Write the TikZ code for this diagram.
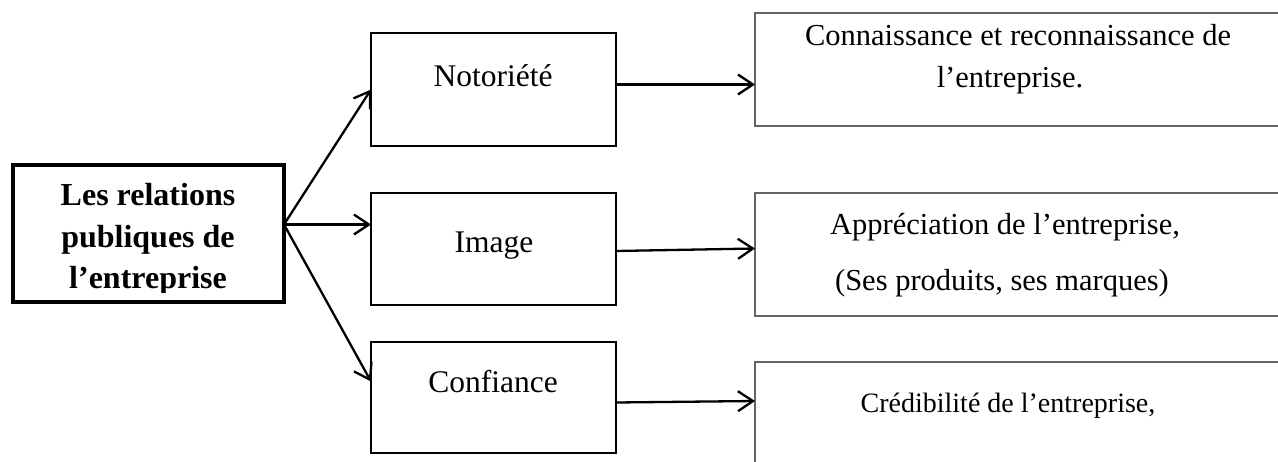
\documentclass[tikz,border=0pt]{standalone}
\usepackage{fontspec}
\setmainfont{Liberation Serif}
\usetikzlibrary{arrows.meta}

\begin{document}
\begin{tikzpicture}[x=1pt,y=-1pt,
    box/.style={draw,line width=2pt,minimum width=245pt,inner sep=0pt,outer sep=0pt,anchor=north west},
    info/.style={draw=black!60,line width=1.5pt,minimum width=540pt,inner sep=0pt,outer sep=0pt,anchor=north west},
    txt/.style={anchor=base,inner sep=0pt,font=\fontsize{30.5}{36}\selectfont},
    head/.style={anchor=base,inner sep=0pt,font=\fontsize{32}{38}\selectfont\bfseries},
    arr/.style={line width=2.3pt,-{Straight Barb[length=15pt,width=20pt]}}]
  \useasboundingbox (0,0) rectangle (1278,461);

  % boxes
  \node[draw,line width=3.5pt,minimum width=271pt,minimum height=137pt,
        inner sep=0pt,outer sep=0pt,anchor=north west] (main) at (13,165) {};
  \node[box,minimum height=113pt] (noto) at (371,33) {};
  \node[box,minimum height=112pt] (img) at (371,193) {};
  \node[box,minimum height=111pt] (conf) at (371,342) {};
  \node[info,minimum height=113pt] (know) at (755,13) {};
  \node[info,minimum height=123pt] (appr) at (755,193) {};
  \node[info,minimum height=120pt] (cred) at (755,362) {};

  % texts
  \begin{scope}
    \clip (15,167) rectangle (282,292);
    \node[head] (main-1) at (148,205) {Les relations};
    \node[head] (main-2) at (148,247) {publiques de};
    \node[head] (main-3) at (148,288) {l’entreprise};
  \end{scope}
  \node[txt,font=\fontsize{31.5}{36}\selectfont] (noto-t) at (493,86) {Notoriété};
  \node[txt,font=\fontsize{31.5}{36}\selectfont] (img-t) at (494,252) {Image};
  \node[txt,font=\fontsize{31.5}{36}\selectfont] (conf-t) at (493,392) {Confiance};
  \node[txt] (know-1) at (1018,45) {Connaissance et reconnaissance de};
  \node[txt] (know-2) at (1010,87) {l’entreprise.};
  \node[txt] (appr-1) at (1005,234) {Appréciation de l’entreprise,};
  \node[txt] (appr-2) at (1002,290) {(Ses produits, ses marques)};
  \node[txt,font=\fontsize{28}{33}\selectfont] (cred-t) at (1008,412) {Crédibilité de l’entreprise,};

  % arrows
  \coordinate (hub) at ([yshift=9pt]main.east);
  \begin{scope}[arr]
    \draw (hub) -- (noto.west);
    \draw (hub) -- (hub -| img.west);
    \draw (hub) -- ([yshift=16pt]conf.west);
    \draw ([yshift=5pt]noto.east) -- ([yshift=5pt]noto.east -| know.west);
    \draw ([yshift=-2pt]img.east) -- ([yshift=6pt]appr.west);
    \draw ([yshift=-5pt]conf.east) -- ([yshift=21pt]cred.west);
  \end{scope}
\end{tikzpicture}
\end{document}
